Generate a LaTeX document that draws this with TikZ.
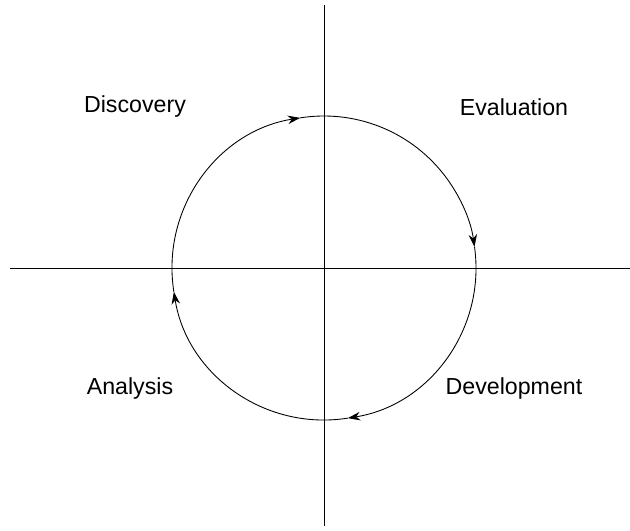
\documentclass[tikz,border=0pt]{standalone}
\usepackage{fontspec}
\setmainfont{Liberation Sans}
\usetikzlibrary{arrows.meta}
\tikzset{phase/.style={font=\fontsize{13.2}{16}\selectfont}}
\begin{document}
\begin{tikzpicture}[>={Stealth[length=2.5mm,width=1.7mm]}, x=0.02cm, y=-0.02cm, line width=0.5pt]
    \useasboundingbox (0,0) rectangle (630,531);
    % Axes
    \coordinate (c) at (324,268);
    \coordinate (top) at (324,5);
    \coordinate (bot) at (324,526);
    \coordinate (lft) at (10,268);
    \coordinate (rgt) at (630,268);
    \draw (top) -- (bot);
    \draw (lft) -- (rgt);
    % Cycle (y axis points down, so angles are mirrored)
    \draw[->] ([shift={(-189:152)}]c) arc[start angle=-189, end angle=-99, radius=152];
    \draw[->] ([shift={(-99:152)}]c) arc[start angle=-99, end angle=-8, radius=152];
    \draw[->] ([shift={(-8:152)}]c) arc[start angle=-8, end angle=81, radius=152];
    \draw[->] ([shift={(81:152)}]c) arc[start angle=81, end angle=171, radius=152];
    % Labels
    \node[phase] (disc) at (135,107) {Discovery};
    \node[phase] (eval) at (514,107) {Evaluation};
    \node[phase] (anal) at (130,389) {Analysis};
    \node[phase] (devl) at (514,389) {Development};
\end{tikzpicture}
\end{document}
